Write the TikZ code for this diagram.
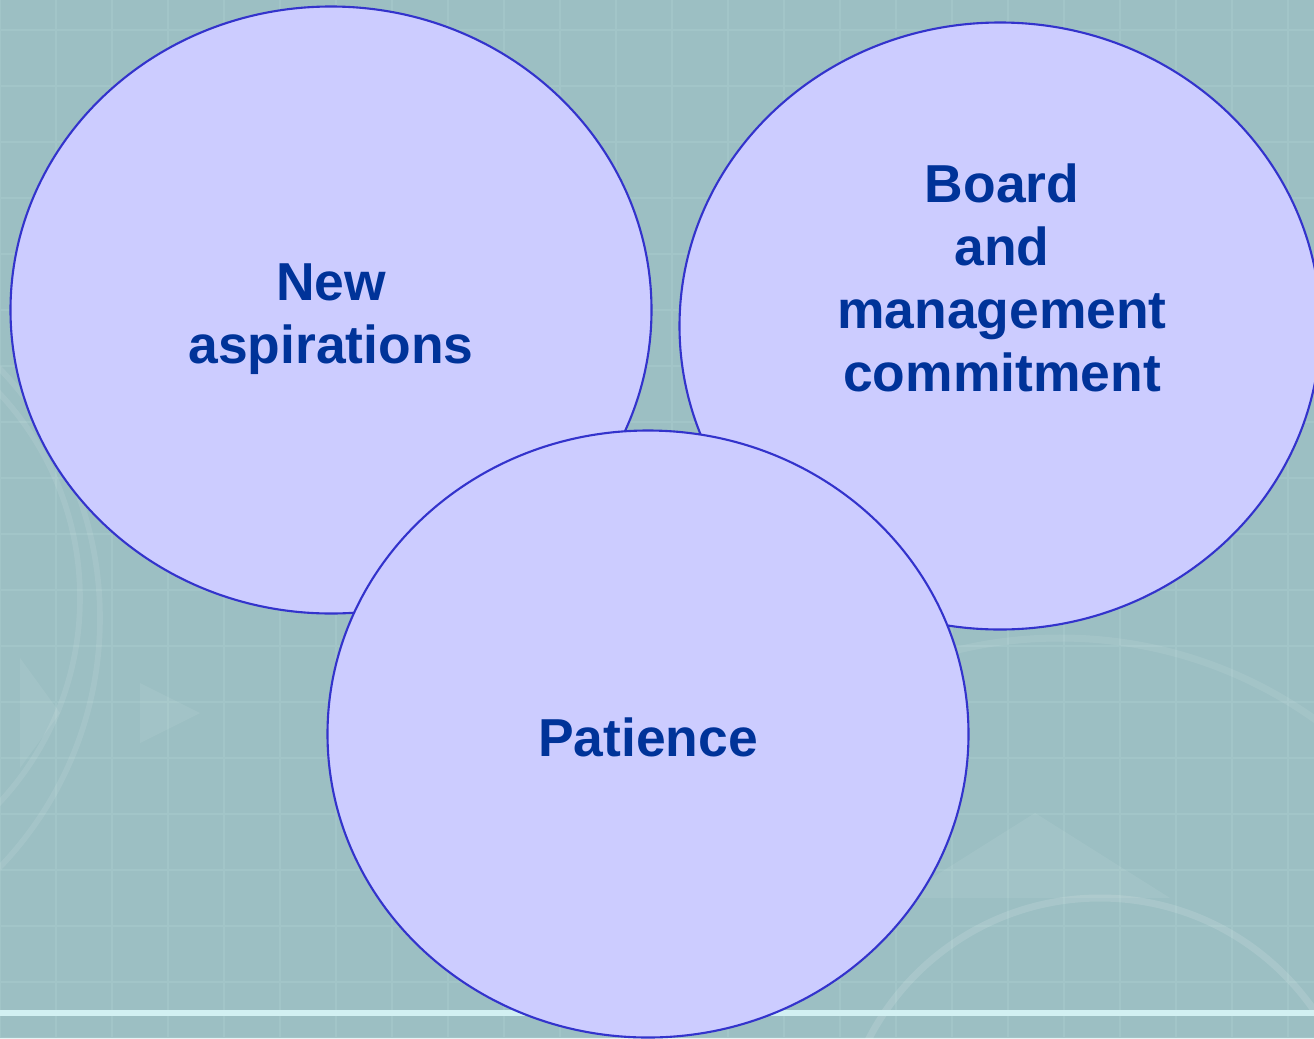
\documentclass[tikz,border=0pt]{standalone}
\usepackage{fontspec}
\setmainfont{Liberation Sans}
\usepackage{tikz}
\usetikzlibrary{shapes.geometric,positioning}

\definecolor{bgteal}{HTML}{9CBFC3}
\definecolor{gridline}{HTML}{B3D3D6}
\definecolor{rimline}{HTML}{D2F0F2}
\definecolor{bubblefill}{HTML}{CCCCFF}
\definecolor{bubbleedge}{HTML}{3333CC}
\definecolor{wordblue}{HTML}{003399}

\tikzset{
  bubble/.style={ellipse,draw=bubbleedge,fill=bubblefill,line width=0.6pt,
    minimum width=6.41cm,minimum height=6.07cm,inner sep=0pt},
  word/.style={text=wordblue,align=center,font=\fontsize{15.2}{17.9}\selectfont\bfseries}
}

\begin{document}
\begin{tikzpicture}
    \useasboundingbox (0,0) rectangle (13.14,10.38);
    \clip (0,0) rectangle (13.14,10.38);
    % backdrop
    \fill[bgteal] (0,0) rectangle (13.14,10.38);
    \draw[gridline,opacity=0.3,line width=0.6pt,step=0.56] (0,0) grid (13.14,10.38);
    \draw[white,opacity=0.09,line width=1.6pt] (-2.2,4.4) circle (3.0);
    \draw[white,opacity=0.09,line width=1.6pt] (-2.6,4.2) circle (3.6);
    \draw[white,opacity=0.12,line width=2pt] (11.0,-1.2) circle (2.6);
    \draw[white,opacity=0.08,line width=2pt] (10.6,-0.4) circle (4.4);
    \fill[white,opacity=0.07] (1.4,3.55) -- (2.0,3.25) -- (1.4,2.95) -- cycle;
    \fill[white,opacity=0.07] (0.2,3.8) -- (0.6,3.25) -- (0.2,2.7) -- cycle;
    \fill[white,opacity=0.07] (10.35,2.25) -- (11.7,1.4) -- (9.0,1.4) -- cycle;
    \draw[rimline,line width=1.5pt] (0,0.25) -- (13.14,0.25);
    % the three bubbles
    \node[bubble] (aspire) at (3.31,7.28) {};
    \node[bubble] (board) at (10.00,7.12) {};
    \node[bubble] (patience) at (6.48,3.04) {};
    % their words
    \node[word] (aspire-txt) at ([yshift=-0.09cm]aspire.center) {New\\aspirations};
    \node[word] (board-txt) at ([xshift=0.02cm,yshift=0.48cm]board.center) {Board\\and\\management\\commitment};
    \node[word] (patience-txt) at ([yshift=-0.03cm]patience.center) {Patience};
\end{tikzpicture}
\end{document}
